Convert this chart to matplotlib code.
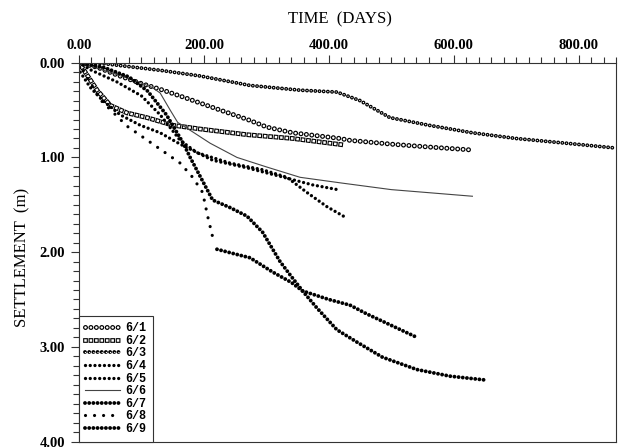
import matplotlib
matplotlib.use('Agg')
import matplotlib.pyplot as plt
from matplotlib.ticker import MultipleLocator, FormatStrFormatter
from matplotlib.legend_handler import HandlerTuple

plt.rcParams['lines.scale_dashes'] = False

# tempo (dias) x recalque (m)
t61 = [0, 30, 61, 100, 130, 170, 226, 270, 301, 342, 380, 418, 434, 500, 560, 626]
s61 = [0, 0.05, 0.13, 0.22, 0.28, 0.37, 0.5, 0.6, 0.68, 0.74, 0.77, 0.8, 0.82, 0.86, 0.89, 0.92]

t62 = [0, 10, 29, 50, 77, 109, 150, 194, 269, 342, 390, 426]
s62 = [0, 0.1, 0.29, 0.45, 0.53, 0.58, 0.66, 0.7, 0.76, 0.8, 0.84, 0.87]

t63 = [0, 40, 66, 130, 194, 274, 354, 413, 450, 498, 560, 630, 700, 780, 858]
s63 = [0, 0.01, 0.03, 0.08, 0.14, 0.24, 0.29, 0.31, 0.4, 0.58, 0.66, 0.74, 0.8, 0.85, 0.9]

t64 = [0, 20, 60, 100, 130, 162, 189, 242, 294, 333, 365, 397, 426]
s64 = [0, 0.08, 0.2, 0.35, 0.55, 0.82, 0.95, 1.06, 1.13, 1.21, 1.37, 1.52, 1.63]

t65 = [0, 2, 18, 38, 66, 98, 130, 162, 214, 269, 322, 374, 414]
s65 = [0, 0.1, 0.26, 0.4, 0.55, 0.66, 0.74, 0.86, 1.03, 1.11, 1.2, 1.29, 1.34]

t66 = [0, 40, 94, 117, 130, 146, 158, 182, 210, 253, 300, 354, 420, 500, 630]
s66 = [0, 0.08, 0.2, 0.26, 0.32, 0.5, 0.63, 0.73, 0.85, 1.0, 1.1, 1.21, 1.27, 1.34, 1.41]

t67 = [0, 40, 80, 110, 140, 167, 178, 194, 214, 242, 269, 294, 322, 338, 358, 381, 413, 445, 486, 541, 594, 650]
s67 = [0, 0.05, 0.15, 0.3, 0.55, 0.85, 1.0, 1.2, 1.45, 1.53, 1.62, 1.79, 2.1, 2.24, 2.41, 2.59, 2.82, 2.95, 3.11, 3.24, 3.31, 3.35]

t68 = [0, 10, 34, 77, 125, 162, 182, 198, 206, 214]
s68 = [0, 0.12, 0.39, 0.67, 0.89, 1.06, 1.21, 1.37, 1.62, 1.84]

t69 = [221, 250, 274, 310, 340, 358, 400, 434, 460, 486, 515, 541]
s69 = [1.97, 2.02, 2.06, 2.21, 2.32, 2.41, 2.5, 2.56, 2.65, 2.73, 2.82, 2.9]

labels = ['6/1', '6/2', '6/3', '6/4', '6/5', '6/6', '6/7', '6/8', '6/9']


# marcadores "abertos": linha pontilhada preta + branca por cima
def aberto(ax, x, y, d, furo, passo, cap='round'):
    l1, = ax.plot(x, y, color='black', lw=d, linestyle=(0, (0.01, passo)),
                  dash_capstyle=cap)
    l2, = ax.plot(x, y, color='white', lw=furo, linestyle=(0, (0.01, passo)),
                  dash_capstyle=cap)
    return (l1, l2)


def pontos(ax, x, y, d, passo):
    l, = ax.plot(x, y, color='black', lw=d, linestyle=(0, (0.01, passo)),
                 dash_capstyle='round')
    return (l,)


fig = plt.figure(figsize=(6.21, 4.48), dpi=100)
ax = fig.add_axes([0.1272, 0.0145, 0.992 - 0.1272, 0.860 - 0.0145])

h = []
h.append(aberto(ax, t61, s61, 3.6, 1.9, 3.9))
h.append(aberto(ax, t62, s62, 3.4, 1.8, 3.9, cap='projecting'))
h.append(aberto(ax, t63, s63, 2.8, 1.0, 3.0))
h.append(pontos(ax, t64, s64, 2.4, 3.4))
h.append(pontos(ax, t65, s65, 2.4, 3.4))
l66, = ax.plot(t66, s66, color='#444444', lw=0.8)
h.append((l66,))
h.append(pontos(ax, t67, s67, 2.8, 3.0))
h.append(pontos(ax, t68, s68, 2.3, 6.5))
h.append(pontos(ax, t69, s69, 2.8, 3.0))

ax.set_xlim(0, 860)
ax.set_ylim(4.0, 0.0)

ax.xaxis.tick_top()
ax.xaxis.set_major_locator(MultipleLocator(200))
ax.xaxis.set_minor_locator(MultipleLocator(20))
ax.yaxis.set_major_locator(MultipleLocator(1))
ax.yaxis.set_minor_locator(MultipleLocator(0.1))
ax.xaxis.set_major_formatter(FormatStrFormatter('%.2f'))
ax.yaxis.set_major_formatter(FormatStrFormatter('%.2f'))
ax.tick_params(which='both', direction='out', width=0.8, color='#333333')
ax.tick_params(which='major', length=6)
ax.tick_params(which='minor', length=4)
ax.tick_params(axis='x', pad=2)
ax.tick_params(axis='y', pad=4)
for lab in ax.get_xticklabels() + ax.get_yticklabels():
    lab.set_fontfamily('Liberation Serif')
    lab.set_fontweight('bold')
    lab.set_fontsize(10.5)
for sp in ax.spines.values():
    sp.set_linewidth(0.8)
    sp.set_color('#333333')

fig.text(340 / 621, 1 - 19 / 448, 'TIME  (DAYS)', family='Liberation Serif',
         fontsize=12, ha='center', va='center')
fig.text(22 / 621, 1 - 257 / 448, 'SETTLEMENT  (m)', family='Liberation Serif',
         fontsize=12, ha='center', va='center', rotation=90)

leg = ax.legend(h, labels, loc='lower left', borderaxespad=0, fancybox=False,
                handler_map={tuple: HandlerTuple(ndivide=1, pad=0)},
                prop={'family': 'Liberation Mono', 'weight': 'bold', 'size': 8.5},
                labelspacing=0.05, handlelength=2.9, handletextpad=0.5,
                borderpad=0.55, framealpha=1)
leg.get_frame().set_edgecolor('#333333')
leg.get_frame().set_linewidth(0.8)

fig.savefig('out.png', dpi=100)
